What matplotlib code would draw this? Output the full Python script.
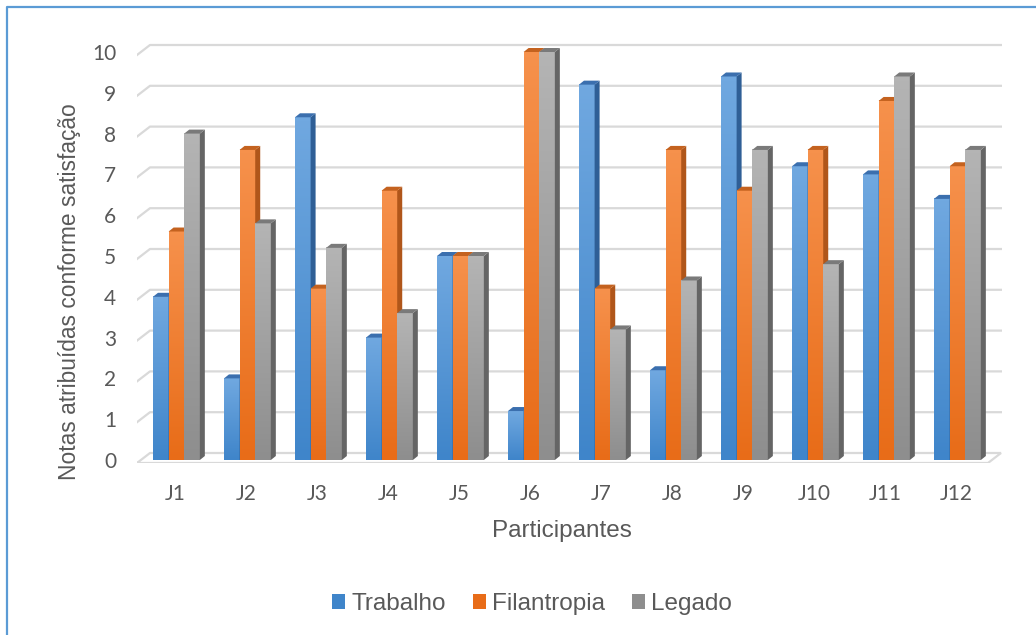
import numpy as np
import matplotlib
matplotlib.use("Agg")
import matplotlib.pyplot as plt
from matplotlib.patches import Polygon, Patch
from matplotlib.lines import Line2D

participantes = ["J1", "J2", "J3", "J4", "J5", "J6", "J7", "J8", "J9", "J10", "J11", "J12"]
trabalho = [4.0, 2.0, 8.4, 3.0, 5.0, 1.2, 9.2, 2.2, 9.4, 7.2, 7.0, 6.4]
filantropia = [5.6, 7.6, 4.2, 6.6, 5.0, 10.0, 4.2, 7.6, 6.6, 7.6, 8.8, 7.2]
legado = [8.0, 5.8, 5.2, 3.6, 5.0, 10.0, 3.2, 4.4, 7.6, 4.8, 9.4, 7.6]
series = ["Trabalho", "Filantropia", "Legado"]
yticks = list(range(0, 11))

# (gradient top, gradient bottom, side face, top face)
cores = [
    ("#70a8e0", "#3f85ca", "#2f5f96", "#3b6fae"),
    ("#f6914c", "#e86c18", "#b0561a", "#c4621f"),
    ("#b4b4b4", "#8e8e8e", "#656565", "#7a7a7a"),
]

plt.rcParams["font.family"] = ["Liberation Sans", "DejaVu Sans"]
fig = plt.figure(figsize=(10.36, 6.35), dpi=100)
ax = fig.add_axes([137 / 1036, (635 - 463) / 635, 865 / 1036, 425 / 635])

ppu_x = 71.0    # pixels per category
ppu_y = 40.8    # pixels per unit
dx = 5 / ppu_x  # depth offset of the 3D faces
dy = 4 / ppu_y
w = 0.22
grid_col = "#d9d9d9"

xl, xb = -0.535, -0.352
back_up = 7 / ppu_y
front_dn = -3 / ppu_y
for v in yticks:
    if v == 0:
        xr_front = (988 - 175) / ppu_x
        xr_back = (1001 - 175) / ppu_x
        ax.plot([xl, xr_front, xr_back, xb, xl],
                [front_dn, front_dn, back_up, back_up, front_dn],
                color=grid_col, lw=1.6, zorder=1, solid_joinstyle="miter")
    else:
        ax.plot([xl, xb, (1001 - 175) / ppu_x], [v + front_dn, v + back_up, v + back_up],
                color=grid_col, lw=1.6, zorder=1)

grad = np.linspace(0, 1, 64).reshape(-1, 1)
for s, vals in enumerate([trabalho, filantropia, legado]):
    top_c, bot_c, side_c, cap_c = cores[s]
    cmap = matplotlib.colors.LinearSegmentedColormap.from_list("g%d" % s, [bot_c, top_c])
    for i, h in enumerate(vals):
        x0 = i - 0.31 + s * w
        z = 3 + s * 0.1 + i * 0.3
        ax.imshow(grad, extent=[x0, x0 + w, 0, h], origin="lower", cmap=cmap,
                  aspect="auto", zorder=z, interpolation="bilinear")
        ax.add_patch(Polygon([(x0 + w, 0), (x0 + w, h), (x0 + w + dx, h + dy), (x0 + w + dx, dy)],
                             closed=True, fc=side_c, ec="none", zorder=z))
        ax.add_patch(Polygon([(x0, h), (x0 + w, h), (x0 + w + dx, h + dy), (x0 + dx, h + dy)],
                             closed=True, fc=cap_c, ec="none", zorder=z))

ax.set_xlim(-0.535, (1002 - 175) / ppu_x)
ax.set_ylim(front_dn, (460 - 38) / ppu_y)
ax.set_xticks(range(len(participantes)))
ax.set_xticklabels(participantes, family="Lato", fontsize=15, color="#595959")
ax.set_yticks(yticks)
ax.set_yticklabels([str(t) for t in yticks], family="Lato", fontsize=15, color="#595959")
ax.tick_params(axis="both", length=0)
ax.tick_params(axis="x", pad=15)
ax.tick_params(axis="y", pad=15)
for sp in ax.spines.values():
    sp.set_visible(False)

fig.text(70 / 1036, (635 - 292) / 635, "Notas atribuídas conforme satisfação",
         rotation=90, ha="center", va="center", fontsize=16.4, color="#595959")
fig.text(562 / 1036, (635 - 531) / 635, "Participantes",
         ha="center", va="center", fontsize=17.5, color="#595959")

handles = [Patch(fc=c[1], ec="none") for c in cores]
fig.legend(handles, series, loc="center", bbox_to_anchor=(532 / 1036, (635 - 604) / 635),
           ncol=3, frameon=False, fontsize=17.5, labelcolor="#595959",
           handlelength=0.55, handleheight=0.55, handletextpad=0.25, columnspacing=1.1)

# chart frame
fig.add_artist(Line2D([7 / 1036, 7 / 1036, 1.0], [0, (635 - 7) / 635, (635 - 7) / 635],
                      transform=fig.transFigure, color="#5b9bd5", lw=1.6))

fig.savefig("out.png", dpi=100)
